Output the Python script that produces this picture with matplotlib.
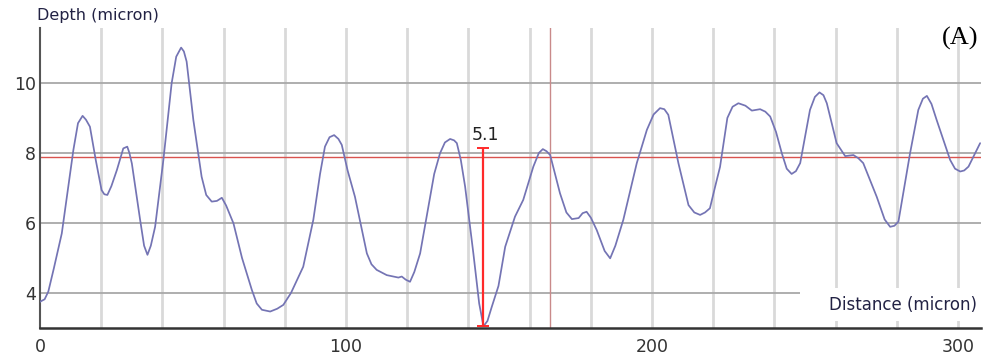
import matplotlib.pyplot as plt
from matplotlib.patches import Rectangle

# surface profile along the scan line
distance = [0, 1.5, 2.7, 4.5, 7.1, 9.0, 10.9, 12.4, 13.9, 15.0, 16.3, 18.2, 20.1, 21.0, 22.0,
            23.3, 25.1, 27.2, 28.5, 29.2, 30.0, 32.7, 34.0, 35.1, 36.2, 37.6, 40.3, 43.0,
            44.5, 46.1, 47.0, 47.9, 50.1, 52.8, 54.3, 56.1, 57.8, 59.4, 60.8, 63.2, 66.0,
            69.2, 70.8, 72.5, 75.2, 77.5, 79.5, 82.0, 86.0, 89.3, 91.5, 93.1, 94.6, 96.1,
            97.5, 98.6, 100.5, 102.9, 106.8, 108.3, 110.0, 113.3, 117.1, 118.2, 119.5,
            120.9, 122.3, 124.2, 126.9, 128.8, 130.7, 132.3, 134.0, 135.3, 136.2, 137.5,
            138.9, 141.6, 143.5, 144.9, 146.2, 147.6, 149.8, 152.0, 155.2, 157.9, 161.2,
            163.0, 164.3, 165.5, 166.7, 168.3, 169.9, 172.0, 173.8, 176.0, 177.3, 178.6,
            180.0, 181.9, 184.5, 186.3, 188.0, 190.6, 195.0, 198.3, 200.5, 202.6, 204.0,
            205.3, 208.6, 211.9, 213.8, 215.7, 217.3, 218.9, 220.5, 222.2, 224.6, 226.3,
            228.2, 230.5, 232.6, 235.3, 237.0, 238.6, 240.5, 242.4, 244.0, 245.6, 247.0,
            248.4, 251.6, 253.2, 254.7, 256.0, 257.1, 260.3, 263.1, 265.8, 267.4, 269.0,
            273.4, 276.0, 277.8, 279.2, 280.5, 284.3, 287.0, 288.5, 289.8, 291.3, 293.0,
            297.4, 299.0, 300.7, 302.0, 303.4, 307.2]
depth = [3.75, 3.82, 4.04, 4.7, 5.7, 6.9, 8.09, 8.85, 9.06, 8.95, 8.75, 7.8, 6.94, 6.82, 6.8,
         7.05, 7.51, 8.13, 8.18, 8.0, 7.7, 6.09, 5.35, 5.09, 5.35, 5.89, 7.8, 9.99,
         10.75, 11.01, 10.9, 10.61, 8.94, 7.32, 6.8, 6.61, 6.63, 6.72, 6.5, 5.99, 5.0,
         4.09, 3.7, 3.52, 3.47, 3.55, 3.66, 4.0, 4.75, 6.09, 7.4, 8.18, 8.45, 8.51,
         8.4, 8.23, 7.5, 6.75, 5.13, 4.82, 4.66, 4.51, 4.44, 4.47, 4.38,
         4.32, 4.6, 5.13, 6.47, 7.4, 7.99, 8.3, 8.4, 8.36, 8.28, 7.8,
         7.04, 5.13, 3.7, 3.05, 3.2, 3.6, 4.2, 5.32, 6.18, 6.66, 7.61,
         8.0, 8.11, 8.05, 7.94, 7.4, 6.85, 6.3, 6.11, 6.14, 6.28, 6.32,
         6.15, 5.8, 5.2, 4.99, 5.35, 6.09, 7.71, 8.66, 9.1, 9.28, 9.25,
         9.09, 7.71, 6.51, 6.3, 6.23, 6.3, 6.42, 7.0, 7.6, 9.0, 9.32,
         9.42, 9.35, 9.21, 9.25, 9.18, 9.04, 8.6, 7.99, 7.55, 7.4, 7.48,
         7.71, 9.23, 9.6, 9.73, 9.65, 9.42, 8.28, 7.91, 7.94, 7.85, 7.71,
         6.75, 6.1, 5.89, 5.92, 6.04, 7.99, 9.23, 9.55, 9.63, 9.4, 8.94,
         7.8, 7.55, 7.47, 7.5, 7.61, 8.28]

ref_level = 7.88      # horizontal reference line
cursor_x = 166.7      # vertical cursor
meas_x = 144.9        # measured valley
meas_bottom = 3.05
meas_height = 5.1

xticks = [0, 100, 200, 300]
yticks = [4, 6, 8, 10]

fig = plt.figure(figsize=(9.84, 3.56), dpi=100)
ax = fig.add_axes([0.0407, 0.0787, 0.9563, 0.8427])
ax.set_xlim(0, 307.5)
ax.set_ylim(3.0, 11.57)

for gx in range(20, 308, 20):
    ax.axvline(gx, color='#d9d9d9', lw=2.0, zorder=0)
for gy in yticks:
    ax.axhline(gy, color='#a8a8a8', lw=1.3, zorder=0)

# white label area at the bottom right
ax.add_patch(Rectangle((0.808, 0.022), 0.2, 0.112, transform=ax.transAxes,
                       facecolor='white', edgecolor='none', zorder=1))
ax.text(0.996, 0.075, 'Distance (micron)', transform=ax.transAxes, ha='right',
        va='center', fontsize=12, color='#222244', family='DejaVu Sans', zorder=2)

ax.axhline(ref_level, color='#d9534f', lw=1.0, zorder=2)
ax.axvline(cursor_x, color='#c98a8a', lw=1.0, zorder=2)

ax.plot(distance, depth, color='#7474b4', lw=1.25, zorder=3,
        solid_joinstyle='round', solid_capstyle='round')

ax.errorbar([meas_x], [meas_bottom + meas_height / 2], yerr=[[meas_height / 2], [meas_height / 2]],
            fmt='none', ecolor='#ff2a2a', elinewidth=1.6, capsize=4, capthick=1.4, zorder=4)
ax.text(meas_x - 3.8, meas_bottom + meas_height + 0.1, f'{meas_height}', ha='left',
        va='bottom', fontsize=12.5, color='#222222', family='DejaVu Sans', zorder=4,
        bbox=dict(facecolor='white', edgecolor='none', pad=0.5))

ax.set_xticks(xticks)
ax.set_yticks(yticks)
ax.tick_params(length=0, labelsize=12.5, colors='#333333')
ax.tick_params(axis='x', pad=7)
ax.tick_params(axis='y', pad=3)
for lbl in ax.get_xticklabels() + ax.get_yticklabels():
    lbl.set_family('DejaVu Sans')

for side in ['top', 'right']:
    ax.spines[side].set_visible(False)
ax.spines['left'].set_color('#555555')
ax.spines['left'].set_linewidth(1.5)
ax.spines['bottom'].set_color('#333333')
ax.spines['bottom'].set_linewidth(1.8)

fig.text(0.038, 0.957, 'Depth (micron)', ha='left', va='center', fontsize=11.5,
         color='#222244', family='DejaVu Sans')
fig.text(0.994, 0.893, '(A)', ha='right', va='center', fontsize=19,
         family='Liberation Serif', color='black')

fig.savefig('out.png', dpi=100)
